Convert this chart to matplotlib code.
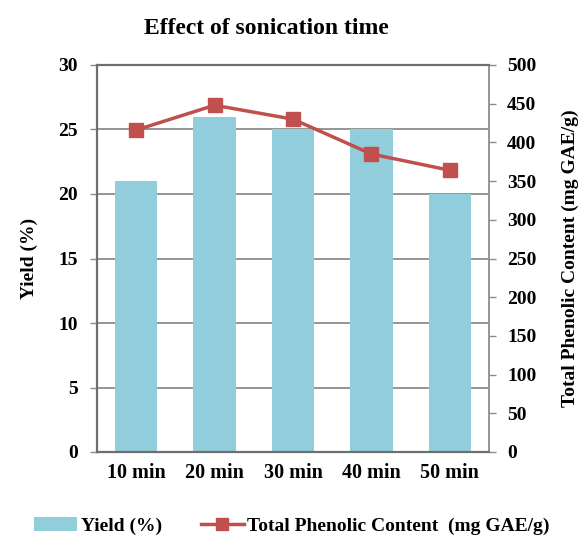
import matplotlib
matplotlib.use("Agg")
import matplotlib.pyplot as plt
from matplotlib.lines import Line2D
from matplotlib.patches import Patch

categories = ["10 min", "20 min", "30 min", "40 min", "50 min"]
yield_pct = [21, 26, 25, 25, 20]
tpc = [416, 448, 430, 385, 364]
left_ticks = [0, 5, 10, 15, 20, 25, 30]
right_ticks = [0, 50, 100, 150, 200, 250, 300, 350, 400, 450, 500]

plt.rcParams['font.family'] = ['Liberation Serif', 'DejaVu Serif']

fig = plt.figure(figsize=(5.84, 5.44), dpi=100)
ax = fig.add_axes([97/584, 92/544, 392/584, 387/544])
x = list(range(len(categories)))
bar_color = "#92CDDC"
line_color = "#C0504D"
ax.bar(x, yield_pct, width=0.54, color=bar_color, zorder=2)
ax.set_xlim(-0.5, len(categories) - 0.5)
ax.set_ylim(0, 30)
ax.set_yticks(left_ticks)
ax.set_xticks(x)
ax.set_xticklabels(categories)
ax.yaxis.grid(True, color="#8c8c8c", linewidth=1.3, zorder=0)
ax.set_axisbelow(True)
for s in ["left", "bottom", "top"]:
    ax.spines[s].set_color("#6e6e6e")
    ax.spines[s].set_linewidth(1.6)
ax.spines["right"].set_color("#8c8c8c")
ax.spines["right"].set_linewidth(1.3)
ax.tick_params(axis="y", length=5, width=1, color="#8c8c8c", labelsize=14, pad=9)
ax.tick_params(axis="x", length=0, labelsize=14.5, pad=8)
for lab in ax.get_yticklabels() + ax.get_xticklabels():
    lab.set_fontweight("bold")
ax.set_ylabel("Yield (%)", fontsize=14, fontweight="bold", labelpad=14)

ax2 = ax.twinx()
ax2.plot(x, tpc, color=line_color, linewidth=2.5, marker="s", markersize=10, zorder=3)
ax2.set_ylim(0, 500)
ax2.set_yticks(right_ticks)
ax2.tick_params(axis="y", length=5, width=1, color="#8c8c8c", labelsize=14, pad=8)
for lab in ax2.get_yticklabels():
    lab.set_fontweight("bold")
for s in ax2.spines.values():
    s.set_visible(False)
ax2.set_ylabel("Total Phenolic Content (mg GAE/g)", fontsize=14, fontweight="bold", labelpad=18)

fig.text(266/584, 1 - 28/544, "Effect of sonication time", ha="center", va="center",
         fontsize=17, fontweight="bold")

handles = [Patch(facecolor=bar_color, edgecolor="none"),
           Line2D([0], [0], color=line_color, linewidth=2.5, marker="s", markersize=9)]
fig.legend(handles, ["Yield (%)", "Total Phenolic Content  (mg GAE/g)"],
           loc="center", bbox_to_anchor=(292/584, 1 - 526/544), ncol=2, frameon=False,
           prop={"size": 14, "weight": "bold"}, handlelength=2.2, columnspacing=2.0,
           handletextpad=0.2)

fig.savefig("out.png", dpi=100)
